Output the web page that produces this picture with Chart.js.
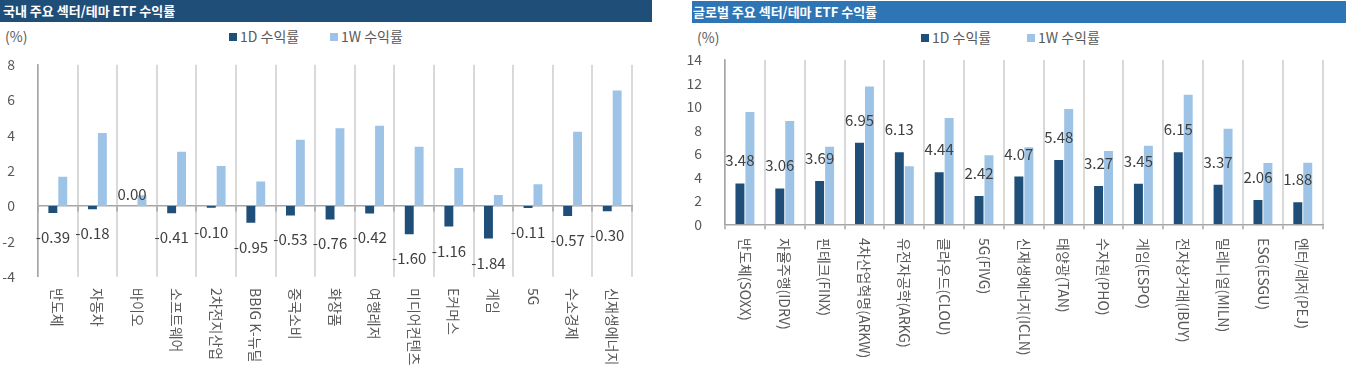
<!DOCTYPE html>
<html>
<head>
<meta charset="utf-8">
<script src="https://cdn.jsdelivr.net/npm/chart.js@4.4.0/dist/chart.umd.min.js"></script>
<style>
html,body{margin:0;padding:0;background:#fff;width:1350px;height:375px;overflow:hidden;font-family:"Noto Sans CJK KR","Noto Sans",sans-serif;}
.titlebar{position:absolute;height:22px;color:#fff;font-weight:bold;font-size:13px;line-height:22px;padding-left:3px;box-sizing:border-box;white-space:nowrap;}
.unit{position:absolute;font-size:14px;color:#595959;line-height:16px;white-space:nowrap;}
.lg-box{position:absolute;width:8px;height:8px;}
.lg-text{position:absolute;font-size:14px;color:#595959;line-height:16px;white-space:nowrap;}
canvas{position:absolute;top:0;}
</style>
</head>
<body>
<div class="titlebar" style="left:0;top:0;width:652px;background:#1F4E79;">국내 주요 섹터/테마 ETF 수익률</div>
<div class="titlebar" style="left:692px;top:1px;width:654px;background:#2E75B6;padding-left:1px;">글로벌 주요 섹터/테마 ETF 수익률</div>
<div class="unit" style="left:5px;top:28px;">(%)</div>
<div class="unit" style="left:697px;top:29px;">(%)</div>
<div id="legends"></div>
<canvas id="c1" width="655" height="375" style="left:0;"></canvas>
<canvas id="c2" width="670" height="375" style="left:680px;"></canvas>
<script>
// ---- data ----
const seriesLabels = ['1D 수익률', '1W 수익률'];

const domesticCategories = ['반도체', '자동차', '바이오', '소프트웨어', '2차전지산업', 'BBIG K-뉴딜', '중국소비', '화장품', '여행레저', '미디어컨텐츠', 'E커머스', '게임', '5G', '수소경제', '신재생에너지'];
const domestic1D = [-0.39, -0.18, 0.00, -0.41, -0.10, -0.95, -0.53, -0.76, -0.42, -1.60, -1.16, -1.84, -0.11, -0.57, -0.30];
const domestic1W = [1.66, 4.14, 0.61, 3.07, 2.27, 1.39, 3.75, 4.40, 4.54, 3.35, 2.15, 0.63, 1.24, 4.21, 6.54];
const domesticTicks = [-4, -2, 0, 2, 4, 6, 8];

const globalCategories = ['반도체(SOXX)', '자율주행(IDRV)', '핀테크(FINX)', '4차산업혁명(ARKW)', '유전자공학(ARKG)', '클라우드(CLOU)', '5G(FIVG)', '신재생에너지(ICLN)', '태양광(TAN)', '수자원(PHO)', '게임(ESPO)', '전자상거래(IBUY)', '밀레니얼(MILN)', 'ESG(ESGU)', '엔터/레저(PEJ)'];
const global1D = [3.48, 3.06, 3.69, 6.95, 6.13, 4.44, 2.42, 4.07, 5.48, 3.27, 3.45, 6.15, 3.37, 2.06, 1.88];
const global1W = [9.57, 8.80, 6.61, 11.75, 4.94, 9.05, 5.88, 6.56, 9.82, 6.24, 6.70, 11.04, 8.14, 5.22, 5.25];
const globalTicks = [0, 2, 4, 6, 8, 10, 12, 14];

// ---- styles ----
const colors = ['#1F4E79', '#9DC3E6'];
const FONT = '"Noto Sans CJK KR", "Noto Sans", sans-serif';
const textColor = '#595959';

// legends (HTML)
(function(){
  const host = document.getElementById('legends');
  const positions = [
    {boxes:[229, 330], texts:[240, 341], top:28, boxTop:32.5},
    {boxes:[921, 1027], texts:[932, 1038], top:29, boxTop:33.5}
  ];
  positions.forEach(p => {
    seriesLabels.forEach((lab, i) => {
      const b = document.createElement('div');
      b.className = 'lg-box';
      b.style.left = p.boxes[i] + 'px'; b.style.top = p.boxTop + 'px'; b.style.background = colors[i];
      host.appendChild(b);
      const t = document.createElement('div');
      t.className = 'lg-text';
      t.style.left = p.texts[i] + 'px'; t.style.top = p.top + 'px';
      t.textContent = lab;
      host.appendChild(t);
    });
  });
})();

const rotatedXLabels = {
  id: 'rotatedXLabels',
  afterDraw(chart, args, opts) {
    const ctx = chart.ctx, xs = chart.scales.x;
    ctx.save();
    ctx.font = opts.font; ctx.fillStyle = opts.color;
    ctx.textAlign = 'left'; ctx.textBaseline = 'middle';
    chart.data.labels.forEach((lab, i) => {
      const x = xs.getPixelForValue(i);
      ctx.save();
      ctx.translate(x, opts.top);
      ctx.rotate(Math.PI / 2);
      ctx.fillText(lab, 0, 0);
      ctx.restore();
    });
    ctx.restore();
  }
};

const barValueLabels = {
  id: 'barValueLabels',
  afterDatasetsDraw(chart, args, opts) {
    const ctx = chart.ctx;
    const meta = chart.getDatasetMeta(0);
    const data = chart.data.datasets[0].data;
    ctx.save();
    ctx.font = opts.font; ctx.fillStyle = opts.color;
    ctx.textAlign = 'center'; ctx.textBaseline = 'alphabetic';
    meta.data.forEach((el, i) => {
      const v = data[i];
      const y = v >= 0 ? el.y - opts.above : el.y + opts.below;
      ctx.fillText(v.toFixed(2), el.x, y);
    });
    ctx.restore();
  }
};

function makeChart(id, labels, d1, dW, ticks, geo) {
  const yMin = ticks[0], yMax = ticks[ticks.length - 1];
  return new Chart(document.getElementById(id), {
    type: 'bar',
    data: {
      labels: labels,
      datasets: [
        {label: seriesLabels[0], data: d1, backgroundColor: colors[0], categoryPercentage: 0.5, barPercentage: 0.9},
        {label: seriesLabels[1], data: dW, backgroundColor: colors[1], categoryPercentage: 0.5, barPercentage: 0.9}
      ]
    },
    plugins: [rotatedXLabels, barValueLabels],
    options: {
      responsive: false,
      animation: false,
      layout: {padding: {left: 0, right: geo.right, top: geo.top, bottom: geo.bottom}},
      plugins: {
        legend: {display: false},
        tooltip: {enabled: false},
        rotatedXLabels: {font: '14px ' + FONT, color: textColor, top: geo.labelTop},
        barValueLabels: {font: '15px ' + FONT, color: '#404040', above: geo.above, below: geo.below}
      },
      scales: {
        x: {
          position: geo.xPos,
          grid: {display: true, offset: true, color: '#D9D9D9', lineWidth: 2, drawTicks: true, tickLength: 5, tickColor: '#A6A6A6', tickWidth: 1.5},
          border: {display: true, color: '#A6A6A6', width: 1.5},
          ticks: {display: false},
          afterFit: s => { s.height = 0; }
        },
        y: {
          min: yMin, max: yMax,
          afterBuildTicks: s => { s.ticks = ticks.map(v => ({value: v})); },
          grid: {display: false},
          border: {display: true, color: '#A6A6A6', width: 1.5},
          ticks: {font: {size: 14, family: FONT}, color: textColor, padding: 15},
          afterFit: s => { s.width = geo.yWidth; }
        }
      }
    }
  });
}

makeChart('c1', domesticCategories, domestic1D, domestic1W, domesticTicks,
  {right: 23, top: 64.7, bottom: 98.3, yWidth: 38, xPos: {y: 0}, labelTop: 288, above: 6.5, below: 30});
makeChart('c2', globalCategories, global1D, global1W, globalTicks,
  {right: 27.3, top: 60, bottom: 150.7, yWidth: 45, xPos: 'bottom', labelTop: 238, above: 17, below: 30});
</script>
</body>
</html>
